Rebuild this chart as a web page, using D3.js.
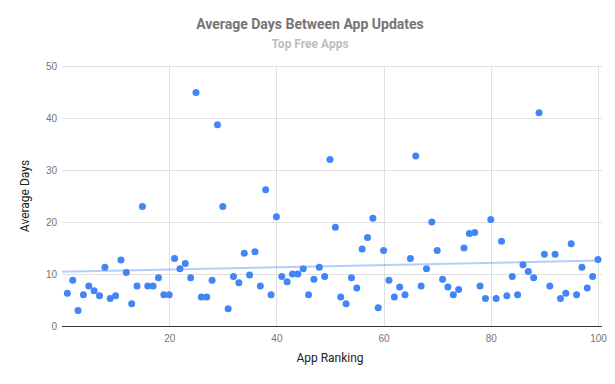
<!DOCTYPE html>
<html lang="en">
<head>
  <meta charset="UTF-8">
  <title>Average Days Between App Updates</title>
  <style>
      body { margin: 0; background: #fff; }
      svg { font-family: Roboto, "Noto Sans", sans-serif; display: block; }
      .grid line { stroke: #e0e0e0; stroke-width: 1; shape-rendering: crispEdges; }
      .grid path { stroke-width: 0; }
      .axis path, .axis line { display: none; }
      .axis text { fill: #757575; font-size: 10px; }
  </style>
</head>
<body>
<div id="chart"></div>
<script src="https://d3js.org/d3.v7.min.js"></script>
<script>
  // App ranking 1..100
  const ranks = d3.range(1, 101);
  // Average days between updates
  const avgDays = [
    6.3, 8.8, 3.0, 6.0, 7.7, 6.8, 5.8, 11.3, 5.3, 5.8,
    12.7, 10.3, 4.3, 7.7, 23.0, 7.7, 7.7, 9.3, 6.0, 6.0,
    13.0, 11.0, 12.0, 9.3, 44.9, 5.6, 5.6, 8.8, 38.7, 23.0,
    3.3, 9.5, 8.3, 14.0, 9.8, 14.3, 7.7, 26.2, 6.0, 21.0,
    9.5, 8.5, 10.0, 10.0, 11.0, 6.0, 9.0, 11.3, 9.5, 32.0,
    19.0, 5.6, 4.3, 9.3, 7.3, 14.8, 17.0, 20.7, 3.5, 14.5,
    8.8, 5.6, 7.5, 6.0, 13.0, 32.7, 7.7, 11.0, 20.0, 14.5,
    9.0, 7.5, 6.0, 7.0, 15.0, 17.8, 18.0, 7.7, 5.3, 20.5,
    5.3, 16.3, 5.8, 9.5, 6.0, 11.8, 10.5, 9.3, 41.0, 13.8,
    7.7, 13.8, 5.3, 6.3, 15.8, 6.0, 11.3, 7.3, 9.5, 12.8
  ];
  const xTicks = [20, 40, 60, 80, 100];
  const yTicks = [0, 10, 20, 30, 40, 50];

  const W = 615, H = 384;
  const margin = {top: 66, right: 17, bottom: 58, left: 62};
  const width = W - margin.left - margin.right;
  const height = H - margin.top - margin.bottom;

  const svg = d3.select("#chart").append("svg")
    .attr("width", W)
    .attr("height", H);

  const g = svg.append("g")
    .attr("transform", `translate(${margin.left},${margin.top})`);

  const x = d3.scaleLinear().domain([0, 100]).range([0, 536]);
  const y = d3.scaleLinear().domain([0, 50]).range([height, 0]);

  // gridlines
  g.append("g")
    .attr("class", "grid")
    .call(d3.axisLeft(y).tickValues(yTicks).tickSize(-(width + 4)).tickFormat(""));
  g.append("g")
    .attr("class", "grid")
    .attr("transform", `translate(0,${height})`)
    .call(d3.axisBottom(x).tickValues(xTicks).tickSize(-height).tickFormat(""));

  // baseline
  g.append("line")
    .attr("x1", 0).attr("x2", width + 4)
    .attr("y1", y(0)).attr("y2", y(0))
    .attr("stroke", "#333").attr("stroke-width", 1)
    .attr("shape-rendering", "crispEdges");

  // tick labels
  g.append("g")
    .attr("class", "axis")
    .call(d3.axisLeft(y).tickValues(yTicks).tickSize(0).tickPadding(5));
  g.append("g")
    .attr("class", "axis")
    .attr("transform", `translate(0,${height})`)
    .call(d3.axisBottom(x).tickValues(xTicks).tickSize(0).tickPadding(9));

  // linear trendline (least squares)
  const mx = d3.mean(ranks), my = d3.mean(avgDays);
  const slope = d3.sum(ranks, (r, i) => (r - mx) * (avgDays[i] - my)) /
                d3.sum(ranks, r => (r - mx) * (r - mx));
  const icpt = my - slope * mx;
  g.append("line")
    .attr("x1", x(0)).attr("y1", y(icpt))
    .attr("x2", x(100)).attr("y2", y(icpt + slope * 100))
    .attr("stroke", "#4285f4")
    .attr("stroke-opacity", 0.4)
    .attr("stroke-width", 2);

  // points
  g.selectAll(".dot")
    .data(avgDays)
    .enter().append("circle")
    .attr("class", "dot")
    .attr("cx", (d, i) => x(ranks[i]))
    .attr("cy", d => y(d))
    .attr("r", 3.5)
    .attr("fill", "#4285f4");

  // titles
  svg.append("text")
    .attr("x", 310).attr("y", 29)
    .attr("text-anchor", "middle")
    .style("font-size", "14px")
    .style("font-weight", "bold")
    .style("fill", "#757575")
    .text("Average Days Between App Updates");
  svg.append("text")
    .attr("x", 310).attr("y", 48)
    .attr("text-anchor", "middle")
    .style("font-size", "12px")
    .style("font-weight", "bold")
    .style("fill", "#bdbdbd")
    .text("Top Free Apps");

  svg.append("text")
    .attr("x", margin.left + 268).attr("y", 362)
    .attr("text-anchor", "middle")
    .style("font-size", "12px")
    .style("fill", "#222")
    .text("App Ranking");
  svg.append("text")
    .attr("transform", `translate(29,${margin.top + height / 2}) rotate(-90)`)
    .attr("text-anchor", "middle")
    .style("font-size", "12px")
    .style("fill", "#222")
    .text("Average Days");
</script>
</body>
</html>
